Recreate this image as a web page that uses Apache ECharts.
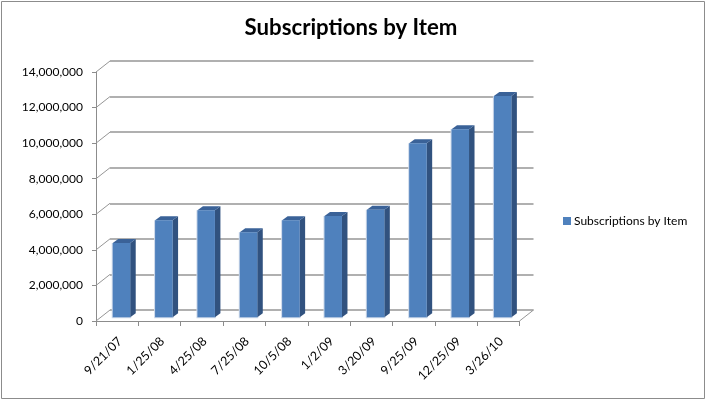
<!DOCTYPE html>
<html><head><meta charset="utf-8">
<style>html,body{margin:0;padding:0;background:#fff}#c{width:706px;height:400px}</style>
<script src="https://cdn.jsdelivr.net/npm/echarts@6/dist/echarts.min.js"></script>
</head><body><div id="c"></div>
<script>
const titleText = 'Subscriptions by Item';
const seriesName = 'Subscriptions by Item';
const categories = ['9/21/07','1/25/08','4/25/08','7/25/08','10/5/08','1/2/09','3/20/09','9/25/09','12/25/09','3/26/10'];
const values = [4180000,5460000,6020000,4780000,5460000,5700000,6050000,9780000,10570000,12440000];
const yTicks = [0,2000000,4000000,6000000,8000000,10000000,12000000,14000000];
const FONT = 'Lato, "Open Sans", sans-serif';
const DX = 14, DY = 11;
const chart = echarts.init(document.getElementById('c'), null, {renderer:'canvas'});
const gridFront = {left:96, top:72, width:423.5, height:249};
const gridBack = {left:96+DX, top:72-DY, width:423.5, height:249};
chart.setOption({
  animation:false,
  backgroundColor:'#fff',
  title:{text:titleText,left:346,top:12,textAlign:'center',textStyle:{fontFamily:FONT,fontSize:22.2,fontWeight:'bold',color:'#000'}},
  legend:{show:true,left:558,top:210,orient:'vertical',itemWidth:8,itemHeight:8,itemGap:0,icon:'rect',
    data:[{name:seriesName,itemStyle:{color:'#4F81BD'}}],
    textStyle:{fontFamily:FONT,fontSize:12,color:'#000',padding:[0,0,0,-2]}},
  graphic:[{type:'rect',shape:{x:1.5,y:1.5,width:703,height:397},style:{fill:'none',stroke:'#8c8c8c',lineWidth:1},silent:true}],
  grid:[gridFront,gridBack],
  xAxis:[
    {gridIndex:0,type:'category',data:categories,boundaryGap:true,
      axisLine:{lineStyle:{color:'#8c8c8c',width:1}},
      axisTick:{show:true,length:5,alignWithLabel:false,lineStyle:{color:'#8c8c8c'}},
      axisLabel:{rotate:45,interval:0,margin:21,padding:[0,-4,0,0],fontFamily:FONT,fontSize:12.5,color:'#000'},
      splitLine:{show:false}},
    {gridIndex:1,type:'category',data:categories,show:false}
  ],
  yAxis:[
    {gridIndex:0,type:'value',min:0,max:14000000,interval:2000000,
      axisLine:{show:true,lineStyle:{color:'#8c8c8c',width:1}},
      axisTick:{show:true,length:4,lineStyle:{color:'#8c8c8c'}},
      axisLabel:{margin:13,fontFamily:FONT,fontSize:12,color:'#000',
        formatter:v=>v.toLocaleString('en-US')},
      splitLine:{show:false}},
    {gridIndex:1,type:'value',min:0,max:14000000,interval:2000000,
      axisLine:{show:false},axisTick:{show:false},axisLabel:{show:false},
      splitLine:{show:true,lineStyle:{color:'#969696',width:1.5}}}
  ],
  series:[
    {type:'custom',name:'walls',xAxisIndex:0,yAxisIndex:0,silent:true,z:1,
      data:yTicks.map(v=>[v]),encode:{y:0},
      renderItem:(p,api)=>{
        const c=api.coord([0,api.value(0)]);
        const x=gridFront.left;
        const children=[{type:'line',shape:{x1:x,y1:c[1],x2:x+DX,y2:c[1]-DY},style:{stroke:'#969696',lineWidth:1}}];
        if(api.value(0)===0){
          const xr=gridFront.left+gridFront.width;
          children.push({type:'line',shape:{x1:xr,y1:c[1],x2:xr+DX,y2:c[1]-DY},style:{stroke:'#969696',lineWidth:1}});
        }
        return {type:'group',children};
      }},
    {type:'custom',name:seriesName,xAxisIndex:0,yAxisIndex:0,z:3,
      data:values.map((v,i)=>[i,v]),encode:{x:0,y:1},
      itemStyle:{color:'#4F81BD'},
      renderItem:(p,api)=>{
        const top=api.coord([api.value(0),api.value(1)]);
        const base=api.coord([api.value(0),0]);
        const w=17.5, d=5.5, dh=4, ox=4.3, oy=3.7;
        const x0=top[0]+ox-w/2, x1=x0+w;
        const yt=top[1]-oy, yb=base[1]-oy;
        return {type:'group',children:[
          {type:'rect',shape:{x:x0-1,y:yt,width:w+2,height:yb-yt+1},style:{fill:'#cdd9ea'}},
          {type:'polygon',shape:{points:[[x1,yt],[x1+d,yt-dh],[x1+d,yb-dh],[x1,yb]]},style:{fill:'#31527F'}},
          {type:'polygon',shape:{points:[[x0,yt],[x0+d,yt-dh],[x1+d,yt-dh],[x1,yt]]},style:{fill:'#3A6298'}},
          {type:'rect',shape:{x:x0,y:yt,width:w,height:yb-yt},style:{fill:'#4F81BD'}}
        ]};
      }}
  ]
});
</script></body></html>
